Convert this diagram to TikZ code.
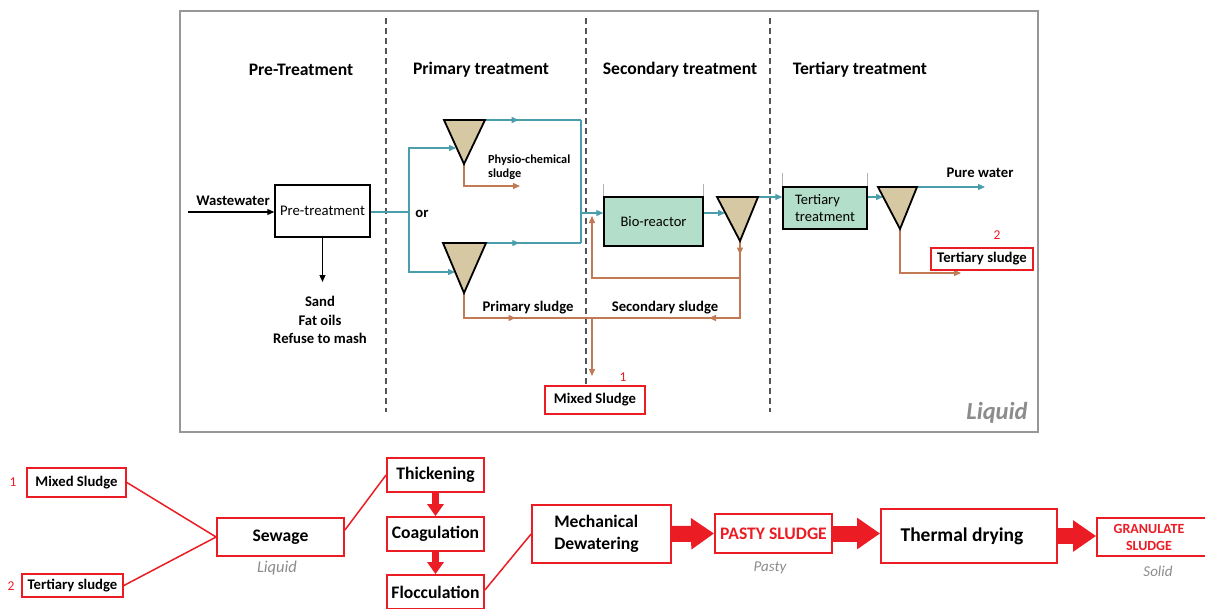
\documentclass[tikz,border=0pt]{standalone}
\usepackage{fontspec}
\setmainfont{Carlito}
\usetikzlibrary{arrows.meta,decorations.markings,calc}
\definecolor{wat}{HTML}{4A9DAB}
\definecolor{brn}{HTML}{C27A55}
\definecolor{rd}{HTML}{EC1C24}
\definecolor{tanf}{HTML}{D7C8A4}
\definecolor{grn}{HTML}{B3DEC9}
\definecolor{gry}{HTML}{8C8C8C}
\definecolor{dgry}{HTML}{555555}
\begin{document}
\begin{tikzpicture}[x=1pt,y=-1pt,
  every node/.style={inner sep=0pt},
  f13/.style={font=\fontsize{14.7}{17}\selectfont},
  bf13/.style={font=\bfseries\fontsize{14.7}{18.5}\selectfont},
  bf11/.style={font=\bfseries\fontsize{12.3}{13.5}\selectfont},
  head/.style={font=\bfseries\fontsize{17.6}{20}\selectfont},
  water/.style={color=wat, line width=1.3pt},
  sludge/.style={color=brn, line width=1.3pt},
  tip/.style={-{Triangle[length=7pt,width=6pt]}},
  midarr/.style={postaction={decorate}, decoration={markings, mark=at position #1 with {\arrow{Triangle[length=7pt,width=6pt]}}}},
  tri/.style={draw=black, fill=tanf, line width=1.8pt, line join=miter},
  tank/.style={draw=black, fill=grn, line width=1.5pt, font=\fontsize{14.5}{17.5}\selectfont},
  wall/.style={draw=gray!60, line width=0.6pt},
  sep/.style={draw=dgry, line width=1.4pt, dash pattern=on 6pt off 4pt},
  rbox/.style={draw=rd, line width=1.8pt, fill=white},
  rline/.style={draw=rd, line width=1.5pt},
  bigarr/.style={draw=rd, line width=16pt, -{Triangle[length=23pt,width=30pt]}},
  vertarr/.style={draw=rd, line width=7pt, -{Triangle[length=12pt,width=16pt]}},
  state/.style={font=\itshape\fontsize{15}{17}\selectfont, text=gry},
  num/.style={font=\fontsize{13.5}{15}\selectfont, text=rd},
  bbig/.style={font=\bfseries\fontsize{17.6}{22}\selectfont}
]
\useasboundingbox (0,0) rectangle (1205,608);
\fill[white] (0,0) rectangle (1205,608);

% outer frame
\draw[draw=gry!90, line width=2pt] (180,11) rectangle (1038,432);
\draw[sep] (386,18) -- (386,412);
\draw[sep] (586,18) -- (586,412);
\draw[sep] (770,18) -- (770,412);

% headings
\node[head] (h1) at (301,70) {Pre-Treatment};
\node[head] (h2) at (481,70) {Primary treatment};
\node[head] (h3) at (680,70) {Secondary treatment};
\node[head] (h4) at (860,70) {Tertiary treatment};

% pre-treatment
\node[draw, line width=1.5pt, minimum width=95pt, minimum height=52pt, f13] (pre) at (322.5,211) {Pre-treatment};
\coordinate (ww) at (188,212);
\draw[black, line width=1.2pt, tip] (ww) -- (pre.west |- ww);
\node[bf13] (wwl) at (233,201) {Wastewater};
\coordinate (dn) at (322.5,282);
\draw[black, line width=1.2pt, tip] (pre.south) -- (dn);
\node[bf13, align=center, anchor=north] (waste) at (320,296) {Sand\\Fat oils\\Refuse to mash};

% triangle coordinates
\coordinate (t1l) at (444,120); \coordinate (t1r) at (485,120); \coordinate (t1a) at (464,164);
\coordinate (t2l) at (443,243); \coordinate (t2r) at (486,243); \coordinate (t2a) at (464,293);
\coordinate (t3l) at (717,197); \coordinate (t3r) at (758,197); \coordinate (t3a) at (740,241);
\coordinate (t4l) at (878,187); \coordinate (t4r) at (917,187); \coordinate (t4a) at (900,229);

% primary water lines
\coordinate (sp) at (409,212);
\coordinate (t1in) at (456,148);
\coordinate (t2in) at (455,272);
\draw[water] (pre.east |- sp) -- (sp);
\draw[water, tip] (sp) |- (t1in);
\draw[water, tip] (sp) |- (t2in);
\node[bf13] (or) at (422,214) {or};
\coordinate (c1) at (581,120);
\coordinate (c2) at (581,243);
\coordinate (jn) at (581,213);
\draw[water, midarr=0.35] (t1r) -- (c1);
\draw[water, midarr=0.35] (t2r) -- (c2);
\draw[water] (c1) -- (c2);

% bio-reactor
\node[tank, minimum width=99pt, minimum height=49pt] (bio) at (653.5,221.5) {Bio-reactor};
\draw[wall] (bio.north west) -- ++(0,-12);
\draw[wall] (bio.north east) -- ++(0,-12);
\draw[water, tip] (jn) -- (bio.west |- jn);
\coordinate (t3in) at (725,213);
\draw[water, tip] (bio.east |- t3in) -- (t3in);

% tertiary
\node[tank, minimum width=84pt, minimum height=42pt, align=left] (ter) at (825,208) {Tertiary\\treatment};
\draw[wall] (ter.north west) -- ++(0,-13);
\draw[wall] (ter.north east) -- ++(0,-13);
\draw[water, tip] (t3r) -- (ter.west |- t3r);
\coordinate (t4in) at (883,197);
\draw[water, tip] (ter.east |- t4in) -- (t4in);
\coordinate (pw) at (985,187);
\draw[water, tip] (t4r) -- (pw);
\node[bf13] (pwl) at (980,173) {Pure water};

% sludge lines
\coordinate (pce) at (520,186);
\draw[sludge, tip] (t1a) |- (pce);
\node[bf11, align=left, anchor=north west] (pcl) at (488,155) {Physio-chemical\\sludge};
\coordinate (mx) at (592,318);
\draw[sludge, midarr=0.5] (t2a) |- (mx);
\draw[sludge, postaction={decorate}, decoration={markings,
   mark=at position 0.06 with {\arrow{Triangle[length=7pt,width=6pt]}},
   mark=at position 0.48 with {\arrow{Triangle[length=7pt,width=6pt]}}}]
   (t3a) |- (mx);
\coordinate (rc) at (740,278);
\coordinate (rin) at (592,216);
\draw[sludge, tip] (rc) -| (rin);
\coordinate (mxd) at (592,376);
\draw[sludge, tip] (mx) -- (mxd);
\node[bf13] (psl) at (528,308) {Primary sludge};
\node[bf13] (ssl) at (665,308) {Secondary sludge};
\node[rbox, bf13, minimum width=100pt, minimum height=28pt] (mix) at (595,400) {Mixed Sludge};
\node[num] (n1a) at (623,377) {1};
\coordinate (tse) at (961,273);
\draw[sludge, tip] (t4a) |- (tse);
\node[rbox, bf13, minimum width=102pt, minimum height=22pt] (tsl) at (982,259) {Tertiary sludge};
\node[num] (n2a) at (997,235) {2};

% triangles
\draw[tri] (t1l) -- (t1r) -- (t1a) -- cycle;
\draw[tri] (t2l) -- (t2r) -- (t2a) -- cycle;
\draw[tri] (t3l) -- (t3r) -- (t3a) -- cycle;
\draw[tri] (t4l) -- (t4r) -- (t4a) -- cycle;

\node[font=\bfseries\itshape\fontsize{24.5}{28}\selectfont, text=gry] (liq) at (997,413) {Liquid};

% ---------- bottom chain ----------
\node[rbox, bf13, minimum width=99pt, minimum height=29pt] (b1) at (76.5,482.5) {Mixed Sludge};
\node[rbox, bf13, minimum width=101pt, minimum height=23pt] (b2) at (72.5,585.5) {Tertiary sludge};
\node[num] (nb1) at (13,482) {1};
\node[num] (nb2) at (11,586) {2};
\node[rbox, bbig, minimum width=127pt, minimum height=38pt] (sew) at (280.5,537) {Sewage};
\node[state, font=\itshape\fontsize{16.5}{18}\selectfont] (sl1) at (277,568) {Liquid};
\draw[rline] (b1.east) -- (sew.west);
\draw[rline] (b2.east) -- (sew.west);

\node[rbox, bbig, minimum width=97pt, minimum height=34pt] (thk) at (435.5,475) {Thickening};
\node[rbox, bbig, minimum width=97pt, minimum height=34pt] (coa) at (435.5,534) {Coagulation};
\node[rbox, bbig, minimum width=97pt, minimum height=34pt] (flo) at (435.5,592) {Flocculation};
\draw[rline] ([yshift=7pt]sew.east) -- (thk.west);
\draw[vertarr] (thk.south) -- (coa.north);
\draw[vertarr] (coa.south) -- (flo.north);

\node[rbox, bbig, minimum width=139pt, minimum height=58pt, align=left] (mech) at (601.5,534) {\hspace*{-10pt}Mechanical\\\hspace*{-10pt}Dewatering};
\draw[rline] ([yshift=2pt]flo.east) -- (mech.west);

\node[rbox, font=\bfseries\fontsize{17.6}{20}\selectfont, text=rd, minimum width=117pt, minimum height=39pt] (pst) at (773.5,533.5) {PASTY SLUDGE};
\node[state] (sl2) at (770,568) {Pasty};
\node[rbox, font=\bfseries\fontsize{19.5}{22}\selectfont, minimum width=176pt, minimum height=54pt] (thd) at (969,536) {\hspace*{-14pt}Thermal drying};
\node[rbox, font=\bfseries\fontsize{14}{17}\selectfont, text=rd, minimum width=112pt, minimum height=38pt, align=center] (gra) at (1153,537) {\hspace*{-8pt}GRANULATE\\\hspace*{-8pt}SLUDGE};
\node[state] (sl3) at (1158,571) {Solid};

\draw[bigarr] (mech.east) -- (pst.west);
\draw[bigarr] (pst.east) -- (thd.west |- pst.east);
\draw[bigarr] (thd.east) -- (gra.west |- thd.east);
\end{tikzpicture}
\end{document}
